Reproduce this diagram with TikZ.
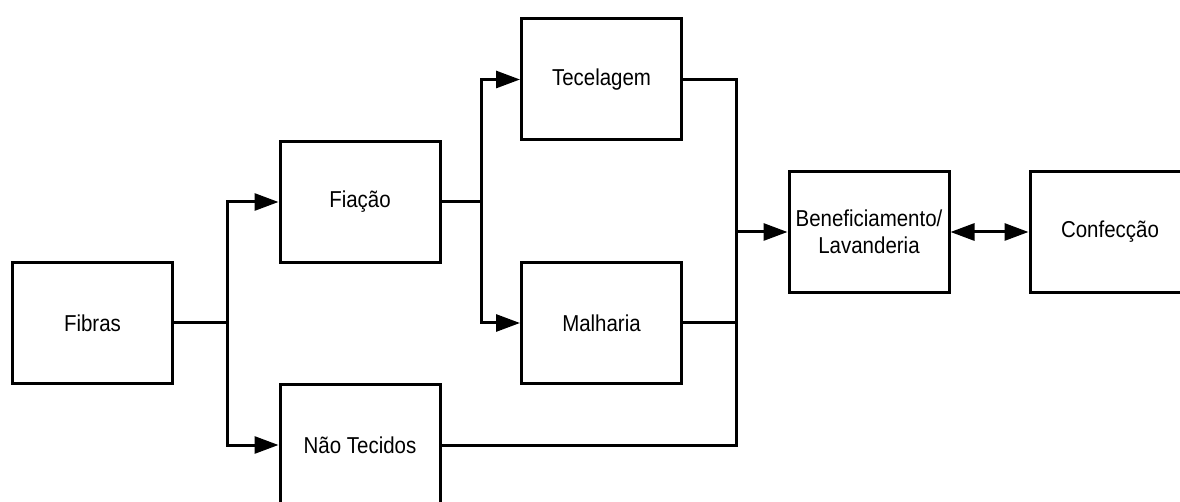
\documentclass[tikz,border=0pt]{standalone}
\usepackage{fontspec}
\setmainfont{Liberation Sans}[FakeStretch=0.89]
\usetikzlibrary{arrows.meta}
\begin{document}
\begin{tikzpicture}[x=1pt,y=-1pt,
  box/.style={draw=black, line width=3pt, fill=white, minimum width=160pt, minimum height=121pt, inner sep=0pt, align=center, font=\fontsize{23}{27}\selectfont},
  conn/.style={line width=3pt, draw=black},
  arr/.style={conn, -{Triangle[length=24pt,width=17pt]}},
  barr/.style={conn, {Triangle[length=24pt,width=17pt]}-{Triangle[length=24pt,width=17pt]}}]
\clip (0,0) rectangle (1180,502);
\fill[white] (0,0) rectangle (1180,502);
\node[box] (fib) at (92.5,323) {Fibras};
\node[box] (fia) at (360,202) {Fiação};
\node[box] (nt) at (360,445) {Não Tecidos};
\node[box] (tec) at (601.5,79.5) {Tecelagem};
\node[box] (mal) at (601.5,323) {Malharia};
\node[box] (ben) at (869,232) {Beneficiamento/\\Lavanderia};
\node[box] (con) at (1110,232) {Confecção};
\coordinate (j1) at (227,323);
\coordinate (j2) at (481,202);
\coordinate (j3) at (736,232);
\draw[conn] (fib.east) -- (j1);
\draw[arr] (j1) |- (fia.west);
\draw[arr] (j1) |- (nt.west);
\draw[conn] (fia.east) -- (j2);
\draw[arr] (j2) |- (tec.west);
\draw[arr] (j2) |- (mal.west);
\draw[conn] (tec.east) -| (j3);
\draw[conn] (mal.east) -| (j3);
\draw[conn] (nt.east) -| (j3);
\draw[arr] (j3) -- (ben.west);
\draw[barr] (ben.east) -- (con.west);
\end{tikzpicture}
\end{document}
